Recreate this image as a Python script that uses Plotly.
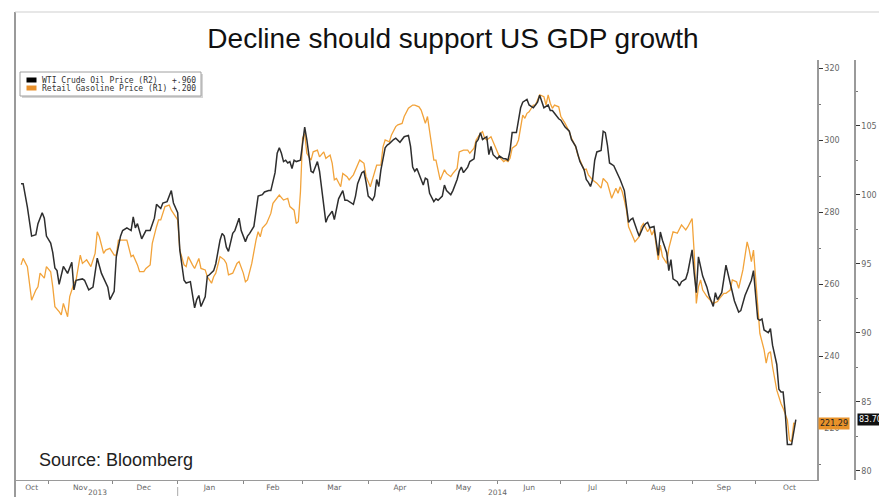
import plotly.graph_objects as go

# ---------------- data ----------------
wti_dates = [
    "2013-10-19", "2013-10-20", "2013-10-22", "2013-10-24", "2013-10-26", "2013-10-27", "2013-10-29", "2013-10-30",
    "2013-10-31", "2013-11-02", "2013-11-03", "2013-11-04", "2013-11-05", "2013-11-06", "2013-11-08", "2013-11-10",
    "2013-11-12", "2013-11-13", "2013-11-14", "2013-11-17", "2013-11-18", "2013-11-20", "2013-11-22", "2013-11-24",
    "2013-11-26", "2013-11-29", "2013-11-30", "2013-12-02", "2013-12-03", "2013-12-05", "2013-12-06", "2013-12-08",
    "2013-12-10", "2013-12-11", "2013-12-12", "2013-12-13", "2013-12-15", "2013-12-17", "2013-12-19", "2013-12-21",
    "2013-12-22", "2013-12-24", "2013-12-25", "2013-12-27", "2013-12-29", "2013-12-30", "2014-01-01", "2014-01-02",
    "2014-01-04", "2014-01-05", "2014-01-07", "2014-01-08", "2014-01-09", "2014-01-10", "2014-01-11", "2014-01-12",
    "2014-01-14", "2014-01-15", "2014-01-16", "2014-01-18", "2014-01-19", "2014-01-21", "2014-01-22", "2014-01-23",
    "2014-01-24", "2014-01-25", "2014-01-27", "2014-01-28", "2014-01-29", "2014-01-30", "2014-01-31", "2014-02-02",
    "2014-02-03", "2014-02-04", "2014-02-06", "2014-02-07", "2014-02-08", "2014-02-10", "2014-02-11", "2014-02-13",
    "2014-02-14", "2014-02-16", "2014-02-17", "2014-02-18", "2014-02-19", "2014-02-20", "2014-02-21", "2014-02-22",
    "2014-02-23", "2014-02-24", "2014-02-25", "2014-02-26", "2014-02-28", "2014-03-01", "2014-03-02", "2014-03-03",
    "2014-03-04", "2014-03-05", "2014-03-06", "2014-03-08", "2014-03-09", "2014-03-10", "2014-03-12", "2014-03-13",
    "2014-03-15", "2014-03-16", "2014-03-17", "2014-03-18", "2014-03-20", "2014-03-21", "2014-03-22", "2014-03-23",
    "2014-03-25", "2014-03-26", "2014-03-27", "2014-03-29", "2014-03-30", "2014-03-31", "2014-04-01", "2014-04-03",
    "2014-04-04", "2014-04-05", "2014-04-06", "2014-04-07", "2014-04-09", "2014-04-10", "2014-04-11", "2014-04-13",
    "2014-04-14", "2014-04-16", "2014-04-17", "2014-04-18", "2014-04-20", "2014-04-21", "2014-04-22", "2014-04-23",
    "2014-04-24", "2014-04-26", "2014-04-27", "2014-04-28", "2014-04-29", "2014-04-30", "2014-05-02", "2014-05-03",
    "2014-05-04", "2014-05-06", "2014-05-07", "2014-05-08", "2014-05-10", "2014-05-11", "2014-05-13", "2014-05-14",
    "2014-05-15", "2014-05-16", "2014-05-18", "2014-05-19", "2014-05-21", "2014-05-22", "2014-05-23", "2014-05-24",
    "2014-05-25", "2014-05-27", "2014-05-28", "2014-05-29", "2014-05-30", "2014-06-01", "2014-06-02", "2014-06-04",
    "2014-06-05", "2014-06-06", "2014-06-07", "2014-06-08", "2014-06-10", "2014-06-11", "2014-06-12", "2014-06-13",
    "2014-06-15", "2014-06-16", "2014-06-18", "2014-06-19", "2014-06-20", "2014-06-21", "2014-06-23", "2014-06-24",
    "2014-06-25", "2014-06-26", "2014-06-27", "2014-06-28", "2014-06-30", "2014-07-01", "2014-07-03", "2014-07-05",
    "2014-07-06", "2014-07-08", "2014-07-09", "2014-07-10", "2014-07-12", "2014-07-13", "2014-07-14", "2014-07-15",
    "2014-07-16", "2014-07-17", "2014-07-18", "2014-07-20", "2014-07-21", "2014-07-22", "2014-07-23", "2014-07-24",
    "2014-07-26", "2014-07-27", "2014-07-29", "2014-07-31", "2014-08-01", "2014-08-02", "2014-08-03", "2014-08-04",
    "2014-08-06", "2014-08-07", "2014-08-09", "2014-08-10", "2014-08-11", "2014-08-12", "2014-08-14", "2014-08-15",
    "2014-08-16", "2014-08-17", "2014-08-18", "2014-08-20", "2014-08-21", "2014-08-22", "2014-08-23", "2014-08-25",
    "2014-08-26", "2014-08-27", "2014-08-29", "2014-08-30", "2014-08-31", "2014-09-01", "2014-09-02", "2014-09-03",
    "2014-09-04", "2014-09-05", "2014-09-06", "2014-09-08", "2014-09-09", "2014-09-11", "2014-09-12", "2014-09-13",
    "2014-09-15", "2014-09-17", "2014-09-18", "2014-09-20", "2014-09-21", "2014-09-23", "2014-09-24", "2014-09-26",
    "2014-09-28", "2014-09-29", "2014-09-30", "2014-10-02", "2014-10-03", "2014-10-04", "2014-10-05", "2014-10-07",
    "2014-10-08", "2014-10-09", "2014-10-11", "2014-10-12", "2014-10-13", "2014-10-14", "2014-10-15", "2014-10-16",
    "2014-10-18", "2014-10-19", "2014-10-20",
]
wti_values = [
    100.8, 100.8, 99.1, 97.0, 97.1, 97.9, 98.7, 98.3,
    97.0, 96.5, 95.8, 94.7, 94.5, 93.5, 94.8, 94.3,
    95.1, 93.1, 93.8, 93.9, 93.8, 93.1, 93.3, 95.4,
    94.3, 93.3, 92.4, 93.0, 95.5, 97.0, 97.4, 97.6,
    97.4, 98.4, 97.6, 97.9, 96.8, 97.4, 97.4, 98.3,
    99.3, 99.0, 99.4, 99.5, 100.3, 99.4, 98.7, 96.0,
    93.8, 93.6, 93.7, 92.6, 91.8, 92.4, 92.7, 91.9,
    92.6, 94.1, 94.2, 94.5, 95.0, 96.7, 97.2, 97.0,
    96.2, 95.9, 97.2, 97.4, 97.9, 98.3, 97.4, 96.6,
    97.0, 97.2, 97.7, 98.9, 99.9, 100.0, 100.2, 100.3,
    100.3, 101.6, 103.0, 103.4, 103.0, 102.4, 102.5, 102.3,
    102.4, 101.9, 102.5, 102.4, 102.5, 103.7, 104.9, 104.0,
    103.0, 101.7, 101.6, 102.4, 101.7, 100.5, 98.0, 98.4,
    98.8, 98.2, 98.9, 99.7, 100.3, 99.6, 99.6, 99.5,
    99.3, 99.9, 100.8, 101.6, 101.7, 100.9, 99.9, 99.6,
    99.9, 101.1, 100.6, 101.8, 103.4, 103.6, 103.7, 104.0,
    104.1, 103.8, 104.0, 104.2, 104.3, 103.5, 102.0, 101.7,
    101.9, 101.1, 100.7, 101.2, 101.1, 100.1, 99.5, 99.7,
    99.6, 99.9, 100.7, 100.3, 100.0, 100.3, 101.1, 101.7,
    102.0, 101.6, 102.0, 102.4, 102.6, 103.8, 104.0, 104.5,
    104.0, 104.2, 102.9, 103.5, 102.9, 102.6, 102.8, 102.6,
    102.6, 102.5, 103.2, 104.5, 104.5, 105.4, 106.3, 106.7,
    106.9, 106.5, 106.3, 106.5, 106.7, 107.2, 106.3, 106.4,
    106.5, 106.1, 106.1, 105.9, 105.5, 105.4, 104.9, 104.6,
    104.0, 103.5, 103.0, 102.4, 101.8, 101.1, 100.9, 100.6,
    101.1, 102.5, 103.1, 103.2, 104.6, 104.5, 103.6, 102.3,
    102.1, 101.8, 101.1, 100.3, 99.1, 98.0, 98.2, 98.3,
    97.4, 97.0, 97.7, 97.9, 98.0, 97.6, 97.7, 96.5,
    95.6, 97.3, 96.7, 95.8, 94.5, 95.3, 93.9, 93.7,
    93.4, 93.7, 93.9, 94.4, 95.3, 96.0, 94.3, 92.9,
    95.5, 94.9, 94.1, 93.3, 92.7, 91.9, 92.9, 92.4,
    92.9, 94.9, 94.3, 93.1, 92.3, 91.5, 91.6, 92.7,
    93.5, 93.8, 94.5, 91.0, 90.9, 91.0, 90.2, 90.0,
    90.3, 89.1, 87.7, 85.9, 85.7, 85.7, 84.2, 81.9,
    81.9, 82.8, 83.7,
]

gas_dates = [
    "2013-10-19", "2013-10-20", "2013-10-22", "2013-10-23", "2013-10-24", "2013-10-26", "2013-10-27", "2013-10-28",
    "2013-10-30", "2013-10-31", "2013-11-02", "2013-11-03", "2013-11-04", "2013-11-06", "2013-11-07", "2013-11-08",
    "2013-11-10", "2013-11-11", "2013-11-13", "2013-11-14", "2013-11-16", "2013-11-17", "2013-11-19", "2013-11-21",
    "2013-11-23", "2013-11-24", "2013-11-25", "2013-11-27", "2013-11-28", "2013-11-30", "2013-12-02", "2013-12-03",
    "2013-12-04", "2013-12-06", "2013-12-08", "2013-12-10", "2013-12-11", "2013-12-13", "2013-12-14", "2013-12-16",
    "2013-12-17", "2013-12-19", "2013-12-20", "2013-12-22", "2013-12-23", "2013-12-24", "2013-12-26", "2013-12-28",
    "2013-12-29", "2013-12-31", "2014-01-01", "2014-01-02", "2014-01-04", "2014-01-05", "2014-01-06", "2014-01-08",
    "2014-01-09", "2014-01-11", "2014-01-12", "2014-01-14", "2014-01-15", "2014-01-17", "2014-01-18", "2014-01-19",
    "2014-01-21", "2014-01-23", "2014-01-24", "2014-01-25", "2014-01-27", "2014-01-29", "2014-01-30", "2014-02-01",
    "2014-02-02", "2014-02-03", "2014-02-05", "2014-02-07", "2014-02-08", "2014-02-09", "2014-02-10", "2014-02-12",
    "2014-02-14", "2014-02-15", "2014-02-17", "2014-02-18", "2014-02-20", "2014-02-22", "2014-02-23", "2014-02-25",
    "2014-02-26", "2014-02-27", "2014-02-28", "2014-03-01", "2014-03-02", "2014-03-03", "2014-03-05", "2014-03-06",
    "2014-03-08", "2014-03-09", "2014-03-11", "2014-03-12", "2014-03-14", "2014-03-15", "2014-03-16", "2014-03-17",
    "2014-03-19", "2014-03-20", "2014-03-22", "2014-03-23", "2014-03-25", "2014-03-27", "2014-03-28", "2014-03-30",
    "2014-03-31", "2014-04-02", "2014-04-03", "2014-04-05", "2014-04-07", "2014-04-08", "2014-04-09", "2014-04-11",
    "2014-04-12", "2014-04-14", "2014-04-15", "2014-04-17", "2014-04-18", "2014-04-20", "2014-04-22", "2014-04-23",
    "2014-04-25", "2014-04-26", "2014-04-27", "2014-04-28", "2014-04-29", "2014-04-30", "2014-05-02", "2014-05-03",
    "2014-05-04", "2014-05-05", "2014-05-07", "2014-05-08", "2014-05-10", "2014-05-11", "2014-05-13", "2014-05-14",
    "2014-05-16", "2014-05-18", "2014-05-19", "2014-05-21", "2014-05-22", "2014-05-24", "2014-05-25", "2014-05-26",
    "2014-05-27", "2014-05-29", "2014-05-30", "2014-06-01", "2014-06-02", "2014-06-04", "2014-06-05", "2014-06-06",
    "2014-06-07", "2014-06-08", "2014-06-10", "2014-06-11", "2014-06-13", "2014-06-14", "2014-06-15", "2014-06-16",
    "2014-06-18", "2014-06-19", "2014-06-20", "2014-06-21", "2014-06-23", "2014-06-24", "2014-06-25", "2014-06-26",
    "2014-06-27", "2014-06-28", "2014-06-30", "2014-07-01", "2014-07-03", "2014-07-05", "2014-07-06", "2014-07-08",
    "2014-07-09", "2014-07-10", "2014-07-12", "2014-07-13", "2014-07-14", "2014-07-16", "2014-07-18", "2014-07-20",
    "2014-07-21", "2014-07-23", "2014-07-24", "2014-07-25", "2014-07-27", "2014-07-28", "2014-07-29", "2014-07-30",
    "2014-07-31", "2014-08-01", "2014-08-02", "2014-08-04", "2014-08-05", "2014-08-07", "2014-08-08", "2014-08-09",
    "2014-08-11", "2014-08-12", "2014-08-13", "2014-08-14", "2014-08-15", "2014-08-16", "2014-08-17", "2014-08-18",
    "2014-08-20", "2014-08-21", "2014-08-22", "2014-08-23", "2014-08-25", "2014-08-26", "2014-08-27", "2014-08-29",
    "2014-08-30", "2014-09-01", "2014-09-02", "2014-09-03", "2014-09-04", "2014-09-05", "2014-09-06", "2014-09-08",
    "2014-09-10", "2014-09-11", "2014-09-13", "2014-09-14", "2014-09-16", "2014-09-17", "2014-09-19", "2014-09-20",
    "2014-09-22", "2014-09-23", "2014-09-25", "2014-09-26", "2014-09-27", "2014-09-28", "2014-09-29", "2014-09-30",
    "2014-10-02", "2014-10-03", "2014-10-05", "2014-10-06", "2014-10-07", "2014-10-08", "2014-10-09", "2014-10-11",
    "2014-10-13", "2014-10-14", "2014-10-16", "2014-10-17", "2014-10-18", "2014-10-19", "2014-10-20",
]
gas_values = [
    265.4, 267.2, 264.9, 259.3, 255.6, 258.4, 259.3, 263.1,
    261.7, 264.9, 263.5, 259.3, 253.8, 252.4, 251.5, 254.7,
    251.0, 256.6, 260.3, 261.2, 268.1, 265.8, 266.8, 264.9,
    268.6, 274.6, 273.2, 268.6, 269.5, 270.0, 268.1, 268.1,
    272.3, 272.3, 272.3, 267.7, 268.1, 265.4, 263.5, 263.5,
    264.4, 265.4, 271.4, 276.0, 277.9, 277.9, 281.6, 282.0,
    280.6, 278.8, 277.9, 269.5, 265.4, 264.9, 267.7, 265.4,
    264.4, 267.2, 264.4, 264.0, 262.1, 260.3, 262.1, 263.1,
    267.7, 266.8, 265.8, 262.6, 263.1, 265.8, 266.3, 263.1,
    260.7, 261.2, 265.8, 272.3, 274.6, 273.2, 275.6, 276.9,
    279.7, 282.5, 283.9, 284.8, 283.4, 283.9, 281.6, 280.6,
    276.9, 277.4, 285.7, 300.6, 301.9, 296.4, 294.5, 296.8,
    297.3, 295.4, 296.8, 295.0, 295.9, 293.6, 289.0, 289.4,
    287.1, 290.8, 289.9, 289.0, 290.4, 293.1, 294.5, 293.6,
    289.9, 287.1, 289.0, 293.1, 293.1, 298.2, 300.1, 299.6,
    301.5, 303.8, 304.3, 304.7, 306.6, 308.9, 309.8, 309.8,
    309.3, 308.4, 306.6, 304.7, 306.6, 302.9, 294.5, 294.5,
    291.3, 289.0, 291.8, 290.8, 289.9, 290.8, 292.2, 296.8,
    297.3, 297.3, 296.4, 297.8, 300.1, 301.9, 302.4, 300.6,
    300.1, 301.0, 299.6, 296.8, 295.4, 294.1, 294.5, 294.1,
    295.0, 297.8, 298.7, 300.1, 307.0, 306.1, 307.5, 307.9,
    309.8, 309.8, 311.2, 312.6, 312.1, 309.8, 312.6, 310.3,
    308.9, 309.8, 309.3, 306.6, 304.7, 302.4, 300.6, 298.2,
    295.9, 294.5, 291.8, 292.0, 290.4, 289.0, 288.1, 286.7,
    289.4, 288.1, 286.2, 283.9, 286.7, 285.3, 287.1, 285.7,
    283.4, 280.6, 276.0, 273.2, 271.8, 273.2, 276.0, 276.9,
    274.6, 275.6, 273.7, 275.1, 270.4, 266.8, 270.9, 267.7,
    265.8, 270.0, 272.3, 274.6, 274.2, 275.6, 276.5, 275.1,
    276.0, 278.3, 268.6, 254.7, 259.3, 261.2, 258.4, 256.6,
    255.2, 254.7, 255.2, 256.1, 257.5, 257.5, 258.4, 261.2,
    260.7, 258.9, 264.0, 268.6, 271.8, 269.5, 266.3, 269.5,
    253.8, 246.4, 241.8, 238.1, 240.8, 241.3, 237.1, 230.6,
    226.9, 225.6, 222.3, 216.8, 216.3, 221.4, 221.29,
]

series_names = ["WTI Crude Oil Price (R2)", "Retail Gasoline Price (R1)"]
series_changes = ["+.960", "+.200"]

month_tick_dates = ["2013-11-01", "2013-12-01", "2014-01-01", "2014-02-01", "2014-03-01", "2014-04-01",
                    "2014-05-01", "2014-06-01", "2014-07-01", "2014-08-01", "2014-09-01", "2014-10-01"]
month_label_dates = ["2013-10-24", "2013-11-16", "2013-12-16", "2014-01-16", "2014-02-15", "2014-03-16",
                     "2014-04-16", "2014-05-16", "2014-06-16", "2014-07-16", "2014-08-16", "2014-09-16",
                     "2014-10-17"]
month_labels = ["Oct", "Nov", "Dec", "Jan", "Feb", "Mar", "Apr", "May", "Jun", "Jul", "Aug", "Sep", "Oct"]
year_labels = ["2013", "2014"]
year_label_dates = ["2013-11-24", "2014-06-01"]
year_break_date = "2014-01-01"

x_range = ["2013-10-16 15:00", "2014-10-30"]
gas_range = [205.64, 322.31]
wti_range = [79.33, 109.76]

title_text = "Decline should support US GDP growth"
source_text = "Source: Bloomberg"

# ---------------- layout helpers ----------------
W, H = 879, 497
L, R, T, B = 16, 24, 60, 17


def px(x):
    return (x - L) / (W - L - R)


def py(y):
    return (H - B - y) / (H - T - B)


BLACK = "#2e2e2e"
ORANGE = "#F2A33A"
AXIS = "#9a9a9a"
TICKFONT = dict(family="DejaVu Sans", size=8, color="#666666")

fig = go.Figure()
fig.add_trace(go.Scatter(x=gas_dates, y=gas_values, mode="lines", name=series_names[1],
                         line=dict(color=ORANGE, width=1.3), yaxis="y", hoverinfo="x+y"))
fig.add_trace(go.Scatter(x=wti_dates, y=wti_values, mode="lines", name=series_names[0],
                         line=dict(color=BLACK, width=1.5), yaxis="y2", hoverinfo="x+y"))

fig.update_layout(
    width=W, height=H,
    margin=dict(l=L, r=R, t=T, b=B, autoexpand=False),
    paper_bgcolor="white", plot_bgcolor="white",
    showlegend=False,
    title=dict(text=title_text, x=453 / W, xref="container", xanchor="center",
               y=1 - 38.5 / H, yref="container", yanchor="middle",
               font=dict(family="Liberation Sans, Arial", size=28, color="#111111")),
    xaxis=dict(type="date", domain=[0, px(817)], range=x_range, anchor="y",
               showline=True, linecolor=AXIS, linewidth=1, mirror=False,
               tickmode="array", tickvals=month_label_dates, ticktext=month_labels,
               ticks="", tickfont=dict(family="DejaVu Sans", size=7.5, color="#666666"),
               minor=dict(tickmode="array", tickvals=month_tick_dates, ticks="outside",
                          ticklen=3, tickcolor="#888888", tickwidth=1),
               showgrid=False, zeroline=False),
    yaxis=dict(range=gas_range, side="right", anchor="x",
               showline=True, linecolor=AXIS, linewidth=1.5,
               tickmode="linear", tick0=0, dtick=20,
               ticks="outside", ticklen=4, tickcolor="#333333", tickwidth=1,
               minor=dict(dtick=10, tick0=0, ticks="outside", ticklen=2, tickcolor="#777777"),
               tickfont=TICKFONT, showgrid=False, zeroline=False),
    yaxis2=dict(range=wti_range, overlaying="y", side="right", anchor="free", position=1.0,
                showline=True, linecolor=AXIS, linewidth=1.5,
                tickmode="linear", tick0=0, dtick=5,
                ticks="outside", ticklen=4, tickcolor="#333333", tickwidth=1,
                minor=dict(dtick=2.5, tick0=0, ticks="outside", ticklen=2, tickcolor="#777777"),
                tickfont=TICKFONT, showgrid=False, zeroline=False),
)

shapes = [
    # outer frame (left and top)
    dict(type="line", xref="paper", yref="paper", x0=px(15), x1=px(15), y0=py(12), y1=py(H),
         line=dict(color="#9a9a9a", width=2)),
    dict(type="line", xref="paper", yref="paper", x0=px(15), x1=px(W), y0=py(12), y1=py(12),
         line=dict(color="#cfcfcf", width=1)),
    # legend box (shadow + box)
    dict(type="rect", xref="paper", yref="paper", x0=px(22), x1=px(203), y0=py(98), y1=py(74),
         line=dict(width=0), fillcolor="#d5d5d5"),
    dict(type="rect", xref="paper", yref="paper", x0=px(20), x1=px(201), y0=py(96), y1=py(72),
         line=dict(color="#a0a0a0", width=1), fillcolor="white"),
    dict(type="rect", xref="paper", yref="paper", x0=px(26.5), x1=px(36.5), y0=py(82.5), y1=py(77.5),
         line=dict(width=0), fillcolor="#000000"),
    dict(type="rect", xref="paper", yref="paper", x0=px(26.5), x1=px(36.5), y0=py(90.5), y1=py(85.5),
         line=dict(width=0), fillcolor="#E8912D"),
    # year separator under the axis
    dict(type="line", xref="x", yref="paper", x0=year_break_date, x1=year_break_date,
         y0=py(487), y1=py(496), line=dict(color="#aaaaaa", width=1)),
]

NB = "\u00a0"
legend_lines = [
    series_names[0] + NB * 3 + series_changes[0],
    series_names[1] + NB * 1 + series_changes[1],
]

annotations = [
    dict(text=source_text, xref="paper", yref="paper", x=px(36.5), y=py(459.5),
         xanchor="left", yanchor="middle", showarrow=False,
         font=dict(family="Liberation Sans, Arial", size=18, color="#222222")),
    dict(text=legend_lines[0], xref="paper", yref="paper", x=px(39.5), y=py(80),
         xanchor="left", yanchor="middle", showarrow=False,
         font=dict(family="DejaVu Sans Mono", size=8, color="#333333")),
    dict(text=legend_lines[1], xref="paper", yref="paper", x=px(39.5), y=py(88),
         xanchor="left", yanchor="middle", showarrow=False,
         font=dict(family="DejaVu Sans Mono", size=8, color="#333333")),
    # last-value tags
    dict(text=f"{gas_values[-1]:.2f}", xref="paper", yref="y", x=px(818), y=gas_values[-1],
         xanchor="left", yanchor="middle", showarrow=False, bgcolor="#E8922A", borderpad=1,
         font=dict(family="DejaVu Sans", size=8, color="#222222")),
    dict(text=f"{wti_values[-1]:.2f}", xref="paper", yref="y2", x=px(857), y=wti_values[-1],
         xanchor="left", yanchor="middle", showarrow=False, bgcolor="#111111", borderpad=1,
         font=dict(family="DejaVu Sans", size=8, color="#ffffff")),
]
for lab, d in zip(year_labels, year_label_dates):
    annotations.append(dict(text=lab, xref="x", yref="paper", x=d, y=py(492.5),
                            xanchor="center", yanchor="middle", showarrow=False,
                            font=dict(family="DejaVu Sans", size=7.5, color="#666666")))

fig.update_layout(shapes=shapes, annotations=annotations)

# remove the browser's default 8px page margin so the figure sits at the page origin
fig.write_html("out.html", config={"displayModeBar": False},
               post_script="document.body.style.margin='0';document.body.style.overflow='hidden';")
